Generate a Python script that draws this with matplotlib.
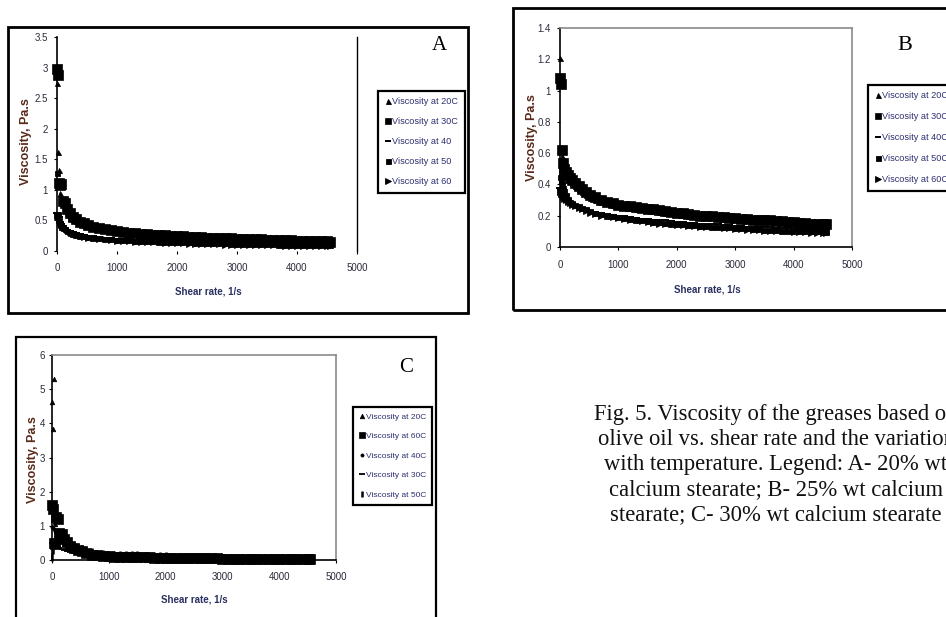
import matplotlib
matplotlib.use('Agg')
import matplotlib.pyplot as plt
from matplotlib.patches import Rectangle
from matplotlib.lines import Line2D

# ---------------- data ----------------
shear_rate = [5, 15, 30, 50, 70, 100, 130, 170, 210, 260, 320, 380, 450, 520, 600,
              700, 800, 900, 1000, 1100, 1200, 1300, 1400, 1500, 1600, 1700, 1800,
              1900, 2000, 2100, 2200, 2300, 2400, 2500, 2600, 2700, 2800, 2900, 3000,
              3100, 3200, 3300, 3400, 3500, 3600, 3700, 3800, 3900, 4000, 4100, 4200,
              4300, 4400, 4500, 4550]

# Panel A - 20% wt calcium stearate
a_labels = ["Viscosity at 20C", "Viscosity at 30C", "Viscosity at 40",
            "Viscosity at 50", "Viscosity at 60"]
a_20 = [2.75, 1.62, 1.32, 0.95, 0.85, 0.78, 0.72, 0.64, 0.58, 0.53, 0.49, 0.46, 0.43, 0.41,
        0.39, 0.37, 0.35, 0.33, 0.31, 0.30, 0.29, 0.28, 0.27, 0.26, 0.255, 0.25, 0.245,
        0.24, 0.235, 0.23, 0.225, 0.22, 0.215, 0.21, 0.205, 0.20, 0.20, 0.195, 0.19, 0.19,
        0.185, 0.18, 0.18, 0.175, 0.17, 0.17, 0.165, 0.165, 0.16, 0.16, 0.155, 0.155, 0.15,
        0.15, 0.15]
a_30 = [2.98, 2.88, 1.12, 1.08, 1.10, 0.82, 0.78, 0.68, 0.62, 0.56, 0.52, 0.48, 0.45, 0.42,
        0.40, 0.38, 0.36, 0.34, 0.32, 0.31, 0.30, 0.29, 0.28, 0.27, 0.265, 0.26, 0.255,
        0.25, 0.245, 0.24, 0.235, 0.23, 0.225, 0.22, 0.215, 0.21, 0.21, 0.205, 0.20, 0.20,
        0.195, 0.19, 0.19, 0.185, 0.18, 0.18, 0.175, 0.175, 0.17, 0.17, 0.165, 0.165, 0.16,
        0.16, 0.155]
a_40 = [0.62, 0.60, 0.55, 0.48, 0.44, 0.41, 0.38, 0.35, 0.33, 0.31, 0.29, 0.27, 0.26, 0.25,
        0.24, 0.23, 0.22, 0.21, 0.20, 0.195, 0.19, 0.185, 0.18, 0.175, 0.17, 0.17, 0.165,
        0.16, 0.16, 0.155, 0.15, 0.15, 0.145, 0.145, 0.14, 0.14, 0.135, 0.135, 0.13, 0.13,
        0.13, 0.125, 0.125, 0.12, 0.12, 0.12, 0.115, 0.115, 0.115, 0.11, 0.11, 0.11, 0.11,
        0.105, 0.105]
a_50 = [1.28, 0.60, 0.50, 0.44, 0.40, 0.38, 0.36, 0.33, 0.30, 0.28, 0.26, 0.25, 0.24, 0.23,
        0.22, 0.21, 0.20, 0.19, 0.185, 0.18, 0.175, 0.17, 0.165, 0.16, 0.16, 0.155, 0.15,
        0.15, 0.145, 0.14, 0.14, 0.135, 0.135, 0.13, 0.13, 0.125, 0.125, 0.12, 0.12, 0.12,
        0.115, 0.115, 0.11, 0.11, 0.11, 0.105, 0.105, 0.10, 0.10, 0.10, 0.10, 0.095, 0.095,
        0.095, 0.09]
a_60 = [0.58, 0.55, 0.50, 0.45, 0.42, 0.40, 0.37, 0.34, 0.31, 0.28, 0.26, 0.24, 0.23, 0.22,
        0.21, 0.20, 0.19, 0.18, 0.17, 0.165, 0.16, 0.155, 0.15, 0.145, 0.14, 0.14, 0.135,
        0.13, 0.13, 0.125, 0.12, 0.12, 0.115, 0.115, 0.11, 0.11, 0.105, 0.105, 0.10, 0.10,
        0.10, 0.095, 0.095, 0.09, 0.09, 0.09, 0.085, 0.085, 0.085, 0.08, 0.08, 0.08, 0.08,
        0.075, 0.075]

# Panel B - 25% wt calcium stearate
b_labels = ["Viscosity at 20C", "Viscosity at 30C", "Viscosity at 40C",
            "Viscosity at 50C", "Viscosity at 60C"]
b_20 = [1.21, 0.64, 0.58, 0.52, 0.49, 0.46, 0.44, 0.42, 0.41, 0.39, 0.37, 0.35, 0.33, 0.315,
        0.30, 0.29, 0.28, 0.27, 0.26, 0.255, 0.25, 0.245, 0.24, 0.235, 0.23, 0.225, 0.22,
        0.215, 0.21, 0.205, 0.20, 0.20, 0.195, 0.19, 0.19, 0.185, 0.185, 0.18, 0.18, 0.175,
        0.175, 0.17, 0.17, 0.165, 0.165, 0.16, 0.16, 0.16, 0.155, 0.155, 0.15, 0.15, 0.15,
        0.145, 0.145]
b_30 = [1.08, 1.04, 0.62, 0.54, 0.50, 0.48, 0.46, 0.44, 0.43, 0.41, 0.39, 0.37, 0.35, 0.33,
        0.32, 0.30, 0.29, 0.28, 0.27, 0.265, 0.26, 0.255, 0.25, 0.245, 0.24, 0.235, 0.23,
        0.225, 0.22, 0.215, 0.21, 0.205, 0.20, 0.20, 0.195, 0.19, 0.19, 0.185, 0.185, 0.18,
        0.18, 0.175, 0.175, 0.17, 0.17, 0.165, 0.165, 0.16, 0.16, 0.155, 0.155, 0.15, 0.15,
        0.145, 0.145]
b_40 = [0.38, 0.37, 0.36, 0.34, 0.33, 0.31, 0.30, 0.29, 0.28, 0.27, 0.26, 0.25, 0.24, 0.23,
        0.225, 0.22, 0.21, 0.205, 0.20, 0.195, 0.19, 0.185, 0.18, 0.18, 0.175, 0.17, 0.17,
        0.165, 0.16, 0.16, 0.155, 0.155, 0.15, 0.15, 0.145, 0.145, 0.14, 0.14, 0.135, 0.135,
        0.13, 0.13, 0.13, 0.125, 0.125, 0.12, 0.12, 0.12, 0.115, 0.115, 0.115, 0.11, 0.11,
        0.11, 0.11]
b_50 = [0.45, 0.42, 0.40, 0.38, 0.36, 0.33, 0.31, 0.29, 0.28, 0.27, 0.26, 0.25, 0.24, 0.23,
        0.22, 0.21, 0.20, 0.195, 0.19, 0.185, 0.18, 0.175, 0.17, 0.165, 0.16, 0.16, 0.155,
        0.15, 0.15, 0.145, 0.14, 0.14, 0.135, 0.135, 0.13, 0.13, 0.125, 0.125, 0.12, 0.12,
        0.12, 0.115, 0.115, 0.11, 0.11, 0.11, 0.105, 0.105, 0.105, 0.10, 0.10, 0.10, 0.10,
        0.095, 0.095]
b_60 = [0.35, 0.34, 0.33, 0.32, 0.31, 0.30, 0.29, 0.28, 0.27, 0.26, 0.25, 0.24, 0.23, 0.22,
        0.21, 0.20, 0.195, 0.19, 0.185, 0.18, 0.175, 0.17, 0.165, 0.16, 0.155, 0.15, 0.15,
        0.145, 0.14, 0.14, 0.135, 0.135, 0.13, 0.13, 0.125, 0.125, 0.12, 0.12, 0.115, 0.115,
        0.11, 0.11, 0.11, 0.105, 0.105, 0.10, 0.10, 0.10, 0.095, 0.095, 0.095, 0.09, 0.09,
        0.09, 0.09]

# Panel C - 30% wt calcium stearate
c_labels = ["Viscosity at 20C", "Viscosity at 60C", "Viscosity at 40C",
            "Viscosity at 30C", "Viscosity at 50C"]
c_20 = [4.63, 3.83, 5.30, 1.05, 0.85, 0.75, 0.65, 0.55, 0.48, 0.42, 0.37, 0.33, 0.30, 0.27,
        0.25, 0.22, 0.20, 0.18, 0.17, 0.16, 0.15, 0.15, 0.14, 0.14, 0.13, 0.13, 0.12, 0.12,
        0.12, 0.11, 0.11, 0.11, 0.10, 0.10, 0.10, 0.10, 0.09, 0.09, 0.09, 0.09, 0.08, 0.08,
        0.08, 0.08, 0.08, 0.07, 0.07, 0.07, 0.07, 0.07, 0.06, 0.06, 0.06, 0.06, 0.06]
c_60 = [1.62, 1.50, 0.50, 0.48, 1.26, 1.20, 0.80, 0.75, 0.62, 0.52, 0.42, 0.36, 0.30, 0.25,
        0.20, 0.16, 0.14, 0.12, 0.11, 0.10, 0.10, 0.09, 0.09, 0.08, 0.08, 0.08, 0.07, 0.07,
        0.07, 0.06, 0.06, 0.06, 0.06, 0.05, 0.05, 0.05, 0.05, 0.05, 0.04, 0.04, 0.04, 0.04,
        0.04, 0.04, 0.03, 0.03, 0.03, 0.03, 0.03, 0.03, 0.03, 0.02, 0.02, 0.02, 0.02]
c_40 = [0.97, 0.95, 0.90, 0.85, 0.80, 0.75, 0.70, 0.62, 0.55, 0.48, 0.42, 0.37, 0.33, 0.30,
        0.27, 0.24, 0.22, 0.20, 0.19, 0.18, 0.17, 0.16, 0.16, 0.15, 0.15, 0.14, 0.14, 0.14,
        0.13, 0.13, 0.13, 0.12, 0.12, 0.12, 0.12, 0.11, 0.11, 0.11, 0.11, 0.10, 0.10, 0.10,
        0.10, 0.10, 0.09, 0.09, 0.09, 0.09, 0.09, 0.08, 0.08, 0.08, 0.08, 0.08, 0.08]
c_30 = [0.49, 0.47, 0.45, 0.42, 0.40, 0.38, 0.35, 0.32, 0.29, 0.26, 0.23, 0.20, 0.18, 0.16,
        0.15, 0.14, 0.13, 0.12, 0.11, 0.11, 0.10, 0.10, 0.09, 0.09, 0.09, 0.08, 0.08, 0.08,
        0.08, 0.07, 0.07, 0.07, 0.07, 0.07, 0.06, 0.06, 0.06, 0.06, 0.06, 0.06, 0.05, 0.05,
        0.05, 0.05, 0.05, 0.05, 0.05, 0.04, 0.04, 0.04, 0.04, 0.04, 0.04, 0.04, 0.04]
c_50 = [0.10, 0.30, 0.45, 0.60, 0.70, 0.82, 0.78, 0.72, 0.64, 0.56, 0.48, 0.42, 0.36, 0.31,
        0.26, 0.22, 0.19, 0.17, 0.16, 0.15, 0.15, 0.14, 0.14, 0.14, 0.13, 0.13, 0.13, 0.13,
        0.13, 0.04, 0.04, 0.04, 0.04, 0.10, 0.04, 0.04, 0.04, 0.04, 0.04, 0.04, 0.04, 0.04,
        0.04, 0.04, 0.04, 0.04, 0.04, 0.04, 0.04, 0.04, 0.04, 0.04, 0.04, 0.04, 0.04]

x_ticks = [0, 1000, 2000, 3000, 4000, 5000]
a_yticks = [0, 0.5, 1, 1.5, 2, 2.5, 3, 3.5]
b_yticks = [0, 0.2, 0.4, 0.6, 0.8, 1, 1.2, 1.4]
c_yticks = [0, 1, 2, 3, 4, 5, 6]

caption_lines = [
    "Fig. 5. Viscosity of the greases based on",
    "olive oil vs. shear rate and the variation",
    "with temperature. Legend: A- 20% wt",
    "calcium stearate; B- 25% wt calcium",
    "stearate; C- 30% wt calcium stearate",
]

# ---------------- drawing ----------------
W, H = 946, 617
fig = plt.figure(figsize=(W / 100, H / 100), dpi=100)
fig.patch.set_facecolor('white')

SANS = ['Liberation Sans Narrow', 'Liberation Sans', 'DejaVu Sans']
SERIF = ['Liberation Serif', 'DejaVu Serif']
TICKC = '#2b2b3b'


def rect_px(x0, y0, x1, y1):
    return [x0 / W, 1 - y1 / H, (x1 - x0) / W, (y1 - y0) / H]


def frame(x0, y0, x1, y1, lw=2.0, color='black'):
    fig.add_artist(Rectangle((x0 / W, 1 - y1 / H), (x1 - x0) / W, (y1 - y0) / H,
                             transform=fig.transFigure, fill=False, lw=lw,
                             edgecolor=color, clip_on=False))


def ftext(x, y, s, **kw):
    fig.text(x / W, 1 - y / H, s, **kw)


# marker styles: (marker, size, edge width)
styles_abc = {
    'A': [('^', 3.6, 0.6), ('s', 6.5, 0.5), ('_', 5.5, 1.4), ('s', 3.6, 0.6), ('>', 3.8, 0.6)],
    'B': [('^', 3.6, 0.6), ('s', 6.5, 0.5), ('_', 5.5, 1.4), ('s', 3.6, 0.6), ('>', 3.8, 0.6)],
    'C': [('^', 3.2, 0.6), ('s', 6.5, 0.5), ('o', 2.2, 0.6), ('_', 5.0, 1.3), ('|', 6.0, 1.8)],
}


def draw_panel(key, rect, ymax, yticks, series, ypad):
    ax = fig.add_axes(rect_px(*rect))
    ax.set_xlim(0, 5000)
    ax.set_ylim(0, ymax)
    for y, (m, s, mew) in zip(series, styles_abc[key]):
        ax.plot(shear_rate, y, linestyle='none', marker=m, ms=s, mew=mew,
                color='black', mfc='black', mec='black', clip_on=False)
    ax.set_xticks(x_ticks)
    ax.set_xticklabels([str(t) for t in x_ticks])
    ax.set_yticks(yticks)
    ax.set_yticklabels([f"{t:g}" for t in yticks])
    ax.tick_params(axis='both', direction='out', length=2.5, width=0.8,
                   labelsize=7, colors='black', labelcolor=TICKC)
    ax.tick_params(axis='x', pad=6.5)
    ax.tick_params(axis='y', pad=ypad)
    for lab in ax.get_xticklabels() + ax.get_yticklabels():
        lab.set_family(SANS)
    ax.set_facecolor('none')
    handles = [Line2D([], [], linestyle='none', marker=m, ms=min(s, 5.0), mew=mew,
                      color='black') for (m, s, mew) in styles_abc[key]]
    return ax, handles


def add_legend(handles, labels, x0, y0, size=6.8, spacing=1.15):
    leg = fig.legend(handles, labels, loc='upper left',
                     bbox_to_anchor=(x0 / W, 1 - y0 / H), bbox_transform=fig.transFigure,
                     frameon=True, fancybox=False, framealpha=1, edgecolor='black',
                     prop={'family': SANS, 'size': size}, labelspacing=spacing,
                     handlelength=0.7, handletextpad=0.15, borderpad=0.7,
                     borderaxespad=0, labelcolor='#2e3070')
    leg.get_frame().set_linewidth(1.6)
    return leg


YLC = '#5a2a1a'
XLC = '#2a3060'

# ---- Panel A ----
frame(8, 27, 468, 313, lw=2.0)
axA, hA = draw_panel('A', (57, 37, 357, 251), 3.5, a_yticks,
                     [a_20, a_30, a_40, a_50, a_60], 4)
axA.spines['top'].set_visible(False)
axA.spines['bottom'].set_visible(False)
axA.spines['left'].set_linewidth(1.2)
axA.spines['right'].set_linewidth(1.0)
add_legend(hA, a_labels, 378, 91, size=6.6, spacing=1.2)
ftext(439, 46, "A", family=SERIF, fontsize=15, ha='center', va='center')
ftext(26, 142, "Viscosity, Pa.s", family=SANS, fontsize=9, fontweight='bold',
      rotation=90, ha='center', va='center', color=YLC)
ftext(208, 291, "Shear rate, 1/s", family=SANS, fontsize=7, fontweight='bold',
      ha='center', va='center', color=XLC)

# ---- Panel B ----
frame(513, 8, 980, 310, lw=2.0)
axB, hB = draw_panel('B', (560, 28, 852, 247), 1.4, b_yticks,
                     [b_20, b_30, b_40, b_50, b_60], 4)
for sp in ('top', 'right'):
    axB.spines[sp].set_color('#8a8a8a')
    axB.spines[sp].set_linewidth(1.2)
axB.spines['left'].set_linewidth(1.2)
axB.spines['bottom'].set_linewidth(1.2)
add_legend(hB, b_labels, 868, 85, size=6.6, spacing=1.3)
ftext(905, 45, "B", family=SERIF, fontsize=16, ha='center', va='center')
ftext(532, 138, "Viscosity, Pa.s", family=SANS, fontsize=9, fontweight='bold',
      rotation=90, ha='center', va='center', color=YLC)
ftext(707, 290, "Shear rate, 1/s", family=SANS, fontsize=7, fontweight='bold',
      ha='center', va='center', color=XLC)

# ---- Panel C ----
frame(16, 337, 436, 640, lw=1.6)
axC, hC = draw_panel('C', (52, 355, 336, 560), 6, c_yticks,
                     [c_20, c_60, c_40, c_30, c_50], 2.5)
for sp in ('top', 'right'):
    axC.spines[sp].set_color('#8a8a8a')
    axC.spines[sp].set_linewidth(1.2)
axC.spines['left'].set_linewidth(1.2)
axC.spines['bottom'].set_linewidth(1.2)
add_legend(hC, c_labels, 353, 407, size=6.0, spacing=1.4)
ftext(406, 367, "C", family=SERIF, fontsize=15, ha='center', va='center')
ftext(33, 460, "Viscosity, Pa.s", family=SANS, fontsize=9, fontweight='bold',
      rotation=90, ha='center', va='center', color=YLC)
ftext(194, 599, "Shear rate, 1/s", family=SANS, fontsize=7, fontweight='bold',
      ha='center', va='center', color=XLC)

# ---- caption ----
for i, line in enumerate(caption_lines):
    ftext(776, 420 + 25 * i, line, family=SERIF, fontsize=16.3, ha='center',
          va='baseline', color='#111111')

fig.savefig('out.png', dpi=100, facecolor='white')
